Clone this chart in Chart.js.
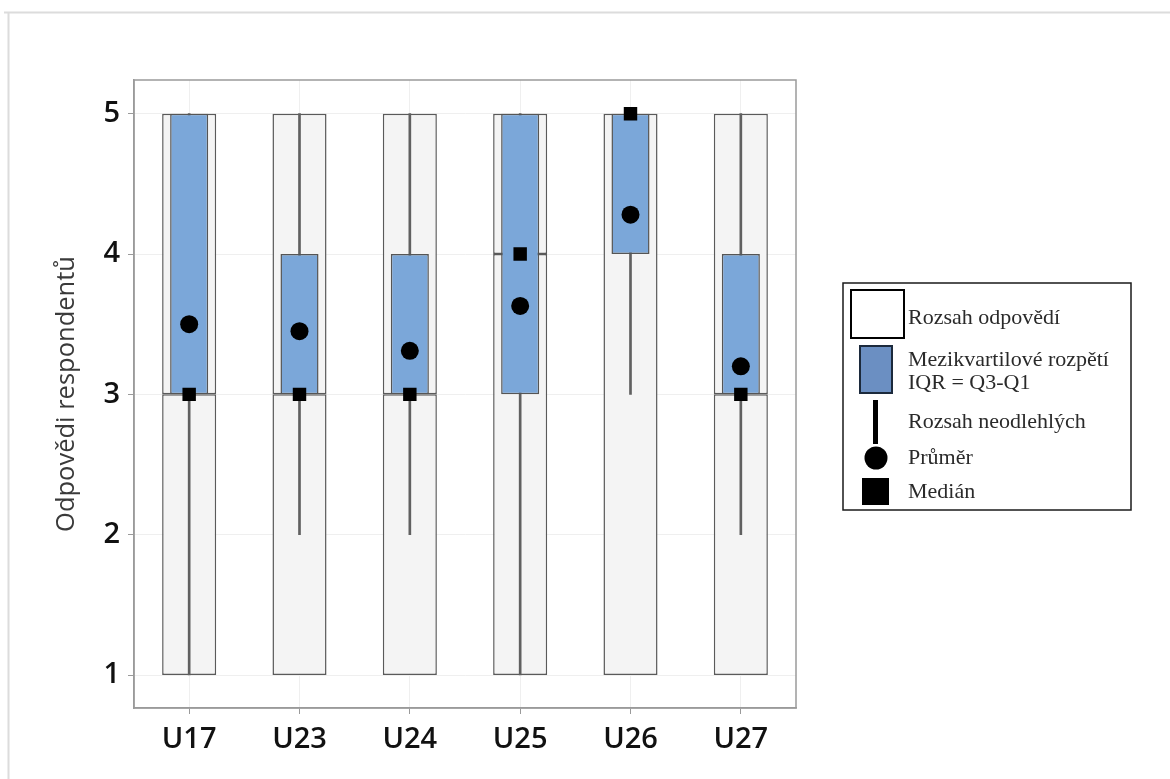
<!DOCTYPE html>
<html>
<head>
<meta charset="utf-8">
<script src="https://cdn.jsdelivr.net/npm/chart.js@4/dist/chart.umd.min.js"></script>
<style>
  html, body { margin: 0; padding: 0; background: #ffffff; }
  #wrap { position: relative; width: 1170px; height: 779px; }
</style>
</head>
<body>
<div id="wrap"><canvas id="c" width="1170" height="779"></canvas></div>
<script>
// Questions and their answer statistics (scale 1–5)
const categories = ['U17', 'U23', 'U24', 'U25', 'U26', 'U27'];
const minimum     = [1, 1, 1, 1, 1, 1];
const maximum     = [5, 5, 5, 5, 5, 5];
const q1          = [3, 3, 3, 3, 4, 3];
const q3          = [5, 4, 4, 5, 5, 4];
const median      = [3, 3, 3, 4, 5, 3];
const mean        = [3.50, 3.45, 3.31, 3.63, 4.28, 3.20];
const whiskerLow  = [1, 2, 2, 1, 3, 2];
const whiskerHigh = [5, 5, 5, 5, 5, 5];
const yTicks      = [1, 2, 3, 4, 5];

const axisGrey = '#9a9a9a';
const boxEdge = '#5a5a5a';

// Range of answers, split at the median
const rangeLower = categories.map((_, i) => [minimum[i], median[i]]);
const rangeUpper = categories.map((_, i) => [median[i], maximum[i]]);
const whisker = categories.map((_, i) => [whiskerLow[i], whiskerHigh[i]]);
const iqr = categories.map((_, i) => [q1[i], q3[i]]);

// Frame, plot border and the explanatory key
const decorations = {
  id: 'decorations',
  beforeDraw(chart) {
    const ctx = chart.ctx;
    ctx.save();
    ctx.strokeStyle = '#dcdcdc';
    ctx.lineWidth = 2;
    ctx.beginPath();
    ctx.moveTo(4, 12.5);
    ctx.lineTo(1170, 12.5);
    ctx.moveTo(8.5, 12.5);
    ctx.lineTo(8.5, 779);
    ctx.stroke();
    ctx.restore();
  },
  afterDraw(chart) {
    const ctx = chart.ctx;
    const a = chart.chartArea;
    ctx.save();
    ctx.strokeStyle = axisGrey;
    ctx.lineWidth = 1.5;
    ctx.strokeRect(a.left, a.top, a.right - a.left, a.bottom - a.top);

    // key box
    const kx = 843, ky = 283, kw = 288, kh = 227;
    ctx.fillStyle = '#ffffff';
    ctx.fillRect(kx, ky, kw, kh);
    ctx.strokeStyle = '#1a1a1a';
    ctx.lineWidth = 1.5;
    ctx.strokeRect(kx, ky, kw, kh);

    // range swatch
    ctx.lineWidth = 2;
    ctx.strokeStyle = '#000000';
    ctx.strokeRect(851, 290, 53, 48);
    // IQR swatch
    ctx.fillStyle = '#6b8fc2';
    ctx.fillRect(860, 346, 32, 47);
    ctx.strokeStyle = '#1c2a3c';
    ctx.strokeRect(860, 346, 32, 47);
    // whisker swatch
    ctx.fillStyle = '#000000';
    ctx.fillRect(873, 400, 5, 44);
    // mean swatch
    ctx.beginPath();
    ctx.arc(876, 458, 11.5, 0, Math.PI * 2);
    ctx.fill();
    // median swatch
    ctx.fillRect(862, 478, 27, 27);

    ctx.fillStyle = '#2a2a2a';
    ctx.font = '22px "Liberation Serif", "Times New Roman", serif';
    ctx.textBaseline = 'middle';
    ctx.textAlign = 'left';
    ctx.fillText('Rozsah odpovědí', 908, 318);
    ctx.fillText('Mezikvartilové rozpětí', 908, 360);
    ctx.fillText('IQR = Q3-Q1', 908, 383);
    ctx.fillText('Rozsah neodlehlých', 908, 422);
    ctx.fillText('Průměr', 908, 458);
    ctx.fillText('Medián', 908, 492);
    ctx.restore();
  }
};

const barCommon = {
  grouped: false,
  categoryPercentage: 1,
  borderSkipped: false
};

const tickFont = { family: '"Open Sans", sans-serif', size: 29, weight: '600' };

new Chart(document.getElementById('c'), {
  type: 'bar',
  data: {
    labels: categories,
    datasets: [
      {
        label: 'Medián',
        type: 'line',
        data: median,
        showLine: false,
        pointStyle: 'rect',
        pointRadius: 9.5,
        pointBackgroundColor: '#000000',
        pointBorderWidth: 0,
        order: 0
      },
      {
        label: 'Průměr',
        type: 'line',
        data: mean,
        showLine: false,
        pointStyle: 'circle',
        pointRadius: 9,
        pointBackgroundColor: '#000000',
        pointBorderWidth: 0,
        order: 1
      },
      Object.assign({
        label: 'Mezikvartilové rozpětí',
        data: iqr,
        barPercentage: 0.345,
        backgroundColor: '#7ba7d9',
        borderColor: '#555555',
        borderWidth: 1.5,
        order: 2
      }, barCommon),
      Object.assign({
        label: 'Rozsah neodlehlých',
        data: whisker,
        barThickness: 2,
        backgroundColor: '#606060',
        borderWidth: 0,
        order: 3
      }, barCommon),
      Object.assign({
        label: 'Rozsah odpovědí (horní)',
        data: rangeUpper,
        barPercentage: 0.49,
        backgroundColor: '#f4f4f4',
        borderColor: boxEdge,
        borderWidth: 1.5,
        order: 4
      }, barCommon),
      Object.assign({
        label: 'Rozsah odpovědí (dolní)',
        data: rangeLower,
        barPercentage: 0.49,
        backgroundColor: '#f4f4f4',
        borderColor: boxEdge,
        borderWidth: 1.5,
        order: 5
      }, barCommon)
    ]
  },
  options: {
    responsive: false,
    animation: false,
    layout: { padding: { top: 80, right: 374, left: 0, bottom: 0 } },
    plugins: {
      legend: { display: false },
      tooltip: { enabled: false }
    },
    scales: {
      x: {
        offset: true,
        grid: {
          offset: false,
          color: '#efefef',
          tickColor: axisGrey,
          tickLength: 6,
          lineWidth: 1
        },
        border: { color: axisGrey, width: 1.5 },
        ticks: {
          color: '#111111',
          padding: 8,
          font: tickFont
        },
        afterFit(s) { s.height = 71; }
      },
      y: {
        min: 0.765,
        max: 5.24,
        afterBuildTicks(s) { s.ticks = yTicks.map(v => ({ value: v })); },
        grid: {
          color: '#efefef',
          tickColor: axisGrey,
          tickLength: 6,
          lineWidth: 1
        },
        border: { color: axisGrey, width: 1.5 },
        ticks: {
          color: '#111111',
          padding: 8,
          font: tickFont
        },
        title: {
          display: true,
          text: 'Odpovědi respondentů',
          color: '#3a3a3a',
          padding: { top: 51, bottom: 0 },
          font: { family: '"Open Sans", sans-serif', size: 25.5, weight: '400' }
        },
        afterFit(s) { s.width = 134; }
      }
    }
  },
  plugins: [decorations]
});
</script>
</body>
</html>
